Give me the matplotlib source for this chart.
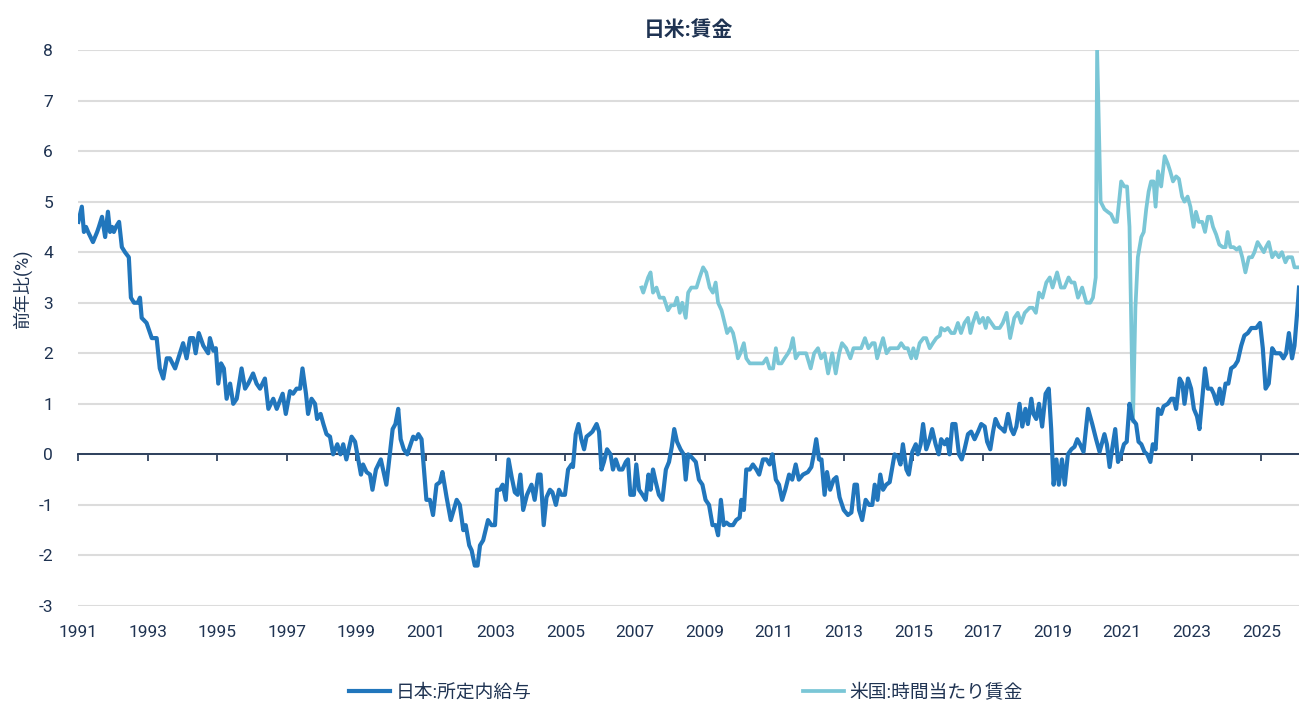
import matplotlib
matplotlib.use("Agg")
import matplotlib.pyplot as plt

plt.rcParams['font.family'] = ['Roboto', 'Noto Sans CJK JP', 'DejaVu Sans']
plt.rcParams['axes.unicode_minus'] = False

# 日本:所定内給与 (前年比, %) 時点は小数年
jp_t = [1991.01, 1991.11, 1991.17, 1991.23, 1991.29, 1991.43, 1991.55, 1991.60, 1991.69, 1991.78,
        1991.86, 1991.92, 1991.98, 1992.03, 1992.09, 1992.18, 1992.26, 1992.35, 1992.46, 1992.52,
        1992.61, 1992.72, 1992.78, 1992.83, 1992.97, 1993.12, 1993.26, 1993.35, 1993.45, 1993.55,
        1993.64, 1993.79, 1994.02, 1994.12, 1994.22, 1994.31, 1994.38, 1994.47, 1994.60, 1994.74,
        1994.79, 1994.89, 1994.96, 1995.03, 1995.11, 1995.19, 1995.27, 1995.37, 1995.46, 1995.56,
        1995.70, 1995.80, 1995.89, 1996.03, 1996.13, 1996.23, 1996.37, 1996.47, 1996.61, 1996.71,
        1996.88, 1996.97, 1997.09, 1997.18, 1997.28, 1997.38, 1997.45, 1997.55, 1997.61, 1997.71,
        1997.81, 1997.87, 1997.97, 1998.05, 1998.14, 1998.24, 1998.33, 1998.45, 1998.54, 1998.62,
        1998.71, 1998.86, 1998.96, 1999.13, 1999.19, 1999.29, 1999.39, 1999.46, 1999.56, 1999.70,
        1999.86, 2000.04, 2000.12, 2000.20, 2000.27, 2000.36, 2000.46, 2000.63, 2000.71, 2000.78,
        2000.87, 2001.01, 2001.11, 2001.20, 2001.30, 2001.40, 2001.47, 2001.59, 2001.71, 2001.88,
        2001.97, 2002.07, 2002.14, 2002.24, 2002.31, 2002.40, 2002.48, 2002.55, 2002.64, 2002.78,
        2002.88, 2002.98, 2003.04, 2003.12, 2003.20, 2003.29, 2003.37, 2003.46, 2003.55, 2003.63,
        2003.71, 2003.79, 2003.90, 2004.03, 2004.12, 2004.22, 2004.29, 2004.38, 2004.46, 2004.56,
        2004.63, 2004.73, 2004.82, 2004.89, 2004.99, 2005.08, 2005.18, 2005.22, 2005.30, 2005.38,
        2005.46, 2005.54, 2005.61, 2005.70, 2005.78, 2005.90, 2005.97, 2006.04, 2006.11, 2006.20,
        2006.30, 2006.37, 2006.45, 2006.55, 2006.64, 2006.74, 2006.80, 2006.87, 2006.97, 2007.04,
        2007.12, 2007.22, 2007.31, 2007.39, 2007.45, 2007.52, 2007.60, 2007.69, 2007.79, 2007.89,
        2007.98, 2008.06, 2008.13, 2008.21, 2008.31, 2008.40, 2008.46, 2008.53, 2008.62, 2008.75,
        2008.84, 2008.94, 2009.03, 2009.13, 2009.23, 2009.32, 2009.39, 2009.47, 2009.55, 2009.63,
        2009.72, 2009.82, 2009.91, 2010.01, 2010.06, 2010.13, 2010.20, 2010.30, 2010.39, 2010.49,
        2010.57, 2010.68, 2010.78, 2010.87, 2010.95, 2011.05, 2011.14, 2011.23, 2011.32, 2011.43,
        2011.52, 2011.62, 2011.71, 2011.83, 2011.97, 2012.07, 2012.14, 2012.21, 2012.29, 2012.36,
        2012.45, 2012.52, 2012.61, 2012.71, 2012.79, 2012.88, 2013.00, 2013.12, 2013.22, 2013.31,
        2013.38, 2013.44, 2013.53, 2013.63, 2013.73, 2013.82, 2013.89, 2013.97, 2014.05, 2014.13,
        2014.22, 2014.32, 2014.46, 2014.56, 2014.63, 2014.70, 2014.80, 2014.87, 2014.97, 2015.07,
        2015.13, 2015.21, 2015.28, 2015.37, 2015.47, 2015.54, 2015.64, 2015.73, 2015.80, 2015.90,
        2015.97, 2016.04, 2016.12, 2016.21, 2016.31, 2016.39, 2016.47, 2016.57, 2016.66, 2016.76,
        2016.86, 2016.95, 2017.05, 2017.12, 2017.21, 2017.29, 2017.36, 2017.46, 2017.55, 2017.62,
        2017.72, 2017.81, 2017.88, 2017.96, 2018.05, 2018.13, 2018.22, 2018.29, 2018.39, 2018.45,
        2018.53, 2018.61, 2018.70, 2018.80, 2018.89, 2018.96, 2019.03, 2019.11, 2019.18, 2019.27,
        2019.35, 2019.44, 2019.54, 2019.63, 2019.71, 2019.79, 2019.89, 2020.02, 2020.14, 2020.25,
        2020.35, 2020.49, 2020.56, 2020.64, 2020.71, 2020.80, 2020.88, 2020.97, 2021.05, 2021.13,
        2021.21, 2021.29, 2021.40, 2021.47, 2021.55, 2021.64, 2021.72, 2021.81, 2021.88, 2021.96,
        2022.03, 2022.12, 2022.19, 2022.31, 2022.41, 2022.48, 2022.55, 2022.65, 2022.73, 2022.79,
        2022.89, 2022.98, 2023.06, 2023.15, 2023.22, 2023.30, 2023.38, 2023.46, 2023.56, 2023.63,
        2023.72, 2023.80, 2023.87, 2023.97, 2024.05, 2024.13, 2024.23, 2024.32, 2024.42, 2024.51,
        2024.61, 2024.71, 2024.85, 2024.96, 2025.04, 2025.12, 2025.21, 2025.31, 2025.40, 2025.54,
        2025.63, 2025.71, 2025.79, 2025.88, 2025.95, 2026.05, 2026.08]
jp_v = [4.6, 4.9, 4.4, 4.5, 4.4, 4.2, 4.4, 4.5, 4.7, 4.3,
        4.8, 4.4, 4.5, 4.4, 4.5, 4.6, 4.1, 4.0, 3.9, 3.1,
        3.0, 3.0, 3.1, 2.7, 2.6, 2.3, 2.3, 1.7, 1.5, 1.9,
        1.9, 1.7, 2.2, 1.9, 2.3, 2.3, 2.0, 2.4, 2.15, 2.0,
        2.3, 2.05, 2.1, 1.4, 1.8, 1.7, 1.1, 1.4, 1.0, 1.1,
        1.7, 1.3, 1.4, 1.6, 1.4, 1.3, 1.5, 0.9, 1.1, 0.9,
        1.2, 0.8, 1.25, 1.2, 1.3, 1.3, 1.7, 1.2, 0.8, 1.1,
        1.0, 0.7, 0.8, 0.6, 0.4, 0.35, 0.0, 0.2, 0.0, 0.2,
        -0.1, 0.35, 0.25, -0.4, -0.2, -0.35, -0.4, -0.7, -0.3, -0.1,
        -0.6, 0.5, 0.6, 0.9, 0.3, 0.1, 0.0, 0.35, 0.3, 0.4,
        0.3, -0.9, -0.9, -1.2, -0.6, -0.55, -0.35, -0.85, -1.3, -0.9,
        -1.0, -1.5, -1.4, -1.8, -1.9, -2.2, -2.2, -1.8, -1.7, -1.3,
        -1.4, -1.4, -0.7, -0.7, -0.6, -0.9, -0.1, -0.45, -0.75, -0.8,
        -0.4, -1.1, -0.8, -0.6, -0.9, -0.4, -0.4, -1.4, -0.85, -0.7,
        -0.75, -1.0, -0.7, -0.8, -0.8, -0.3, -0.2, -0.25, 0.4, 0.6,
        0.3, 0.1, 0.35, 0.4, 0.45, 0.6, 0.45, -0.3, -0.15, 0.1,
        0.0, -0.3, -0.1, -0.3, -0.3, -0.15, -0.1, -0.8, -0.8, -0.2,
        -0.7, -0.8, -0.9, -0.4, -0.7, -0.3, -0.55, -0.8, -0.9, -0.3,
        -0.15, 0.15, 0.5, 0.25, 0.1, 0.0, -0.5, 0.0, -0.05, -0.15,
        -0.5, -0.6, -0.9, -1.0, -1.4, -1.4, -1.6, -0.9, -1.4, -1.35,
        -1.4, -1.4, -1.3, -1.25, -0.9, -1.1, -0.3, -0.3, -0.2, -0.3,
        -0.4, -0.1, -0.1, -0.2, 0.0, -0.5, -0.6, -0.9, -0.7, -0.4,
        -0.5, -0.2, -0.5, -0.4, -0.35, -0.25, 0.0, 0.3, -0.1, -0.1,
        -0.8, -0.35, -0.7, -0.5, -0.45, -0.85, -1.1, -1.2, -1.15, -0.6,
        -0.6, -1.1, -1.3, -0.9, -1.0, -1.0, -0.6, -0.9, -0.4, -0.7,
        -0.6, -0.55, 0.0, -0.05, -0.2, 0.2, -0.3, -0.4, 0.05, 0.2,
        0.0, 0.2, 0.6, 0.1, 0.3, 0.5, 0.2, 0.0, 0.3, 0.2,
        0.3, 0.0, 0.6, 0.6, 0.0, -0.1, 0.1, 0.4, 0.45, 0.3,
        0.45, 0.6, 0.55, 0.25, 0.1, 0.45, 0.7, 0.55, 0.5, 0.45,
        0.8, 0.5, 0.4, 0.55, 1.0, 0.55, 0.9, 0.6, 1.1, 0.8,
        0.7, 1.0, 0.55, 1.2, 1.3, 0.5, -0.6, -0.1, -0.6, -0.1,
        -0.6, 0.0, 0.1, 0.15, 0.3, 0.2, 0.05, 0.9, 0.6, 0.3,
        0.05, 0.4, 0.2, -0.25, 0.1, 0.5, -0.15, 0.0, 0.2, 0.25,
        1.0, 0.7, 0.6, 0.25, 0.2, 0.05, 0.0, -0.15, 0.2, 0.1,
        0.9, 0.8, 0.95, 1.0, 1.1, 1.1, 0.9, 1.5, 1.4, 1.0,
        1.5, 1.3, 0.9, 0.75, 0.5, 1.1, 1.7, 1.3, 1.3, 1.2,
        1.0, 1.3, 1.0, 1.4, 1.4, 1.7, 1.75, 1.85, 2.15, 2.35,
        2.4, 2.5, 2.5, 2.6, 2.1, 1.3, 1.4, 2.1, 2.0, 2.0,
        1.9, 2.0, 2.4, 1.9, 2.15, 3.0, 3.3]

# 米国:時間当たり賃金 (前年比, %)
us_t = [2007.19, 2007.24, 2007.38, 2007.45, 2007.52, 2007.62, 2007.71, 2007.83, 2007.95, 2008.04,
        2008.14, 2008.21, 2008.29, 2008.36, 2008.46, 2008.53, 2008.62, 2008.77, 2008.86, 2008.96,
        2009.05, 2009.15, 2009.24, 2009.32, 2009.39, 2009.49, 2009.58, 2009.65, 2009.74, 2009.82,
        2009.90, 2009.96, 2010.03, 2010.13, 2010.20, 2010.30, 2010.49, 2010.68, 2010.78, 2010.87,
        2010.97, 2011.05, 2011.12, 2011.21, 2011.30, 2011.40, 2011.47, 2011.54, 2011.62, 2011.71,
        2011.81, 2011.92, 2012.05, 2012.15, 2012.26, 2012.35, 2012.45, 2012.55, 2012.67, 2012.77,
        2012.87, 2012.95, 2013.07, 2013.19, 2013.28, 2013.41, 2013.50, 2013.61, 2013.71, 2013.82,
        2013.89, 2013.96, 2014.04, 2014.13, 2014.23, 2014.33, 2014.44, 2014.56, 2014.65, 2014.75,
        2014.84, 2014.94, 2015.00, 2015.08, 2015.18, 2015.29, 2015.37, 2015.47, 2015.56, 2015.66,
        2015.76, 2015.80, 2015.90, 2015.99, 2016.09, 2016.18, 2016.28, 2016.37, 2016.47, 2016.57,
        2016.64, 2016.71, 2016.81, 2016.90, 2017.00, 2017.08, 2017.14, 2017.24, 2017.34, 2017.48,
        2017.57, 2017.68, 2017.78, 2017.90, 2018.00, 2018.10, 2018.20, 2018.34, 2018.43, 2018.52,
        2018.61, 2018.71, 2018.82, 2018.92, 2019.00, 2019.13, 2019.24, 2019.34, 2019.46, 2019.54,
        2019.63, 2019.73, 2019.85, 2019.97, 2020.08, 2020.16, 2020.24, 2020.28, 2020.38, 2020.49,
        2020.58, 2020.68, 2020.78, 2020.85, 2020.97, 2021.06, 2021.14, 2021.21, 2021.31, 2021.38,
        2021.45, 2021.55, 2021.62, 2021.69, 2021.76, 2021.83, 2021.90, 2021.96, 2022.03, 2022.12,
        2022.22, 2022.31, 2022.38, 2022.46, 2022.55, 2022.63, 2022.72, 2022.79, 2022.88, 2022.96,
        2023.05, 2023.12, 2023.20, 2023.30, 2023.38, 2023.46, 2023.54, 2023.61, 2023.70, 2023.79,
        2023.89, 2023.97, 2024.03, 2024.11, 2024.20, 2024.29, 2024.37, 2024.45, 2024.54, 2024.64,
        2024.73, 2024.80, 2024.89, 2024.98, 2025.07, 2025.13, 2025.21, 2025.31, 2025.40, 2025.50,
        2025.59, 2025.69, 2025.76, 2025.88, 2025.95, 2026.05]
us_v = [3.3, 3.2, 3.5, 3.6, 3.2, 3.3, 3.1, 3.1, 2.85, 2.95,
        2.95, 3.1, 2.8, 3.0, 2.7, 3.2, 3.3, 3.3, 3.5, 3.7,
        3.6, 3.3, 3.2, 3.4, 3.0, 2.85, 2.6, 2.4, 2.5, 2.4,
        2.15, 1.9, 2.0, 2.2, 1.9, 1.8, 1.8, 1.8, 1.9, 1.7,
        1.7, 2.1, 1.8, 1.8, 1.9, 2.0, 2.1, 2.3, 1.9, 2.0,
        2.0, 2.0, 1.7, 2.0, 2.1, 1.9, 2.0, 1.6, 2.0, 1.6,
        2.0, 2.2, 2.1, 1.9, 2.1, 2.1, 2.1, 2.3, 2.1, 2.2,
        2.2, 1.9, 2.1, 2.3, 2.0, 2.1, 2.1, 2.1, 2.2, 2.1,
        2.1, 1.9, 2.1, 1.9, 2.2, 2.3, 2.3, 2.1, 2.2, 2.3,
        2.35, 2.5, 2.45, 2.5, 2.4, 2.4, 2.6, 2.4, 2.6, 2.7,
        2.4, 2.6, 2.8, 2.6, 2.7, 2.5, 2.7, 2.6, 2.5, 2.5,
        2.6, 2.8, 2.3, 2.7, 2.8, 2.6, 2.8, 2.9, 2.9, 2.8,
        3.2, 3.1, 3.4, 3.5, 3.3, 3.6, 3.3, 3.3, 3.5, 3.4,
        3.4, 3.1, 3.3, 3.0, 3.0, 3.1, 3.5, 8.0, 5.0, 4.85,
        4.8, 4.75, 4.6, 4.6, 5.4, 5.3, 5.3, 4.5, 0.65, 2.9,
        3.9, 4.3, 4.4, 4.85, 5.2, 5.4, 5.4, 4.9, 5.6, 5.3,
        5.9, 5.75, 5.6, 5.4, 5.5, 5.45, 5.1, 5.0, 5.1, 4.9,
        4.5, 4.8, 4.6, 4.6, 4.4, 4.7, 4.7, 4.5, 4.35, 4.15,
        4.1, 4.1, 4.4, 4.1, 4.1, 4.05, 4.1, 3.9, 3.6, 3.9,
        3.9, 4.0, 4.2, 4.1, 4.0, 4.1, 4.2, 3.9, 4.0, 3.9,
        4.0, 3.8, 3.9, 3.9, 3.7, 3.7]

years = list(range(1991, 2026, 2))
yticks = list(range(-3, 9))

navy = '#1f3352'
c_jp = '#2176bc'
c_us = '#7ac6d6'

fig = plt.figure(figsize=(12.99, 7.05), dpi=100)
ax = fig.add_axes([78 / 1299, 1 - 606 / 705, 1 - 78 / 1299, (606 - 50) / 705])

ax.plot(jp_t, jp_v, color=c_jp, lw=3.0, label='日本:所定内給与', zorder=4, solid_joinstyle='round')
ax.plot(us_t, us_v, color=c_us, lw=2.7, label='米国:時間当たり賃金', zorder=3, solid_joinstyle='round')

ax.set_xlim(1991.0, 2026.08)
ax.set_ylim(-3, 8)

# 横グリッド
ax.set_yticks(yticks)
ax.yaxis.grid(True, color='#dcdcdc', lw=1.5)
ax.set_axisbelow(True)
ax.tick_params(axis='y', length=0, pad=18, labelsize=12.5, labelcolor=navy)

for s in ['top', 'right', 'left']:
    ax.spines[s].set_visible(False)

# ゼロ線に目盛り
ax.spines['bottom'].set_position(('data', 0))
ax.spines['bottom'].set_color(navy)
ax.spines['bottom'].set_linewidth(1.3)
ax.spines['bottom'].set_zorder(2.6)
ax.set_xticks(years)
ax.tick_params(axis='x', direction='out', length=5, width=1.2, color=navy, labelbottom=False)

# 年ラベルは下端に
sec = ax.secondary_xaxis('bottom')
sec.set_xticks(years)
sec.set_xticklabels([str(y) for y in years])
sec.tick_params(length=0, pad=14, labelsize=12.5, labelcolor=navy)
sec.spines['bottom'].set_visible(False)

ax.set_ylabel('前年比(%)', fontsize=13, color=navy)
ax.yaxis.set_label_coords(-0.038, 0.57)

ax.set_title('日米:賃金', fontsize=15, color=navy, fontweight='bold', pad=10)

fig.legend(loc='center', bbox_to_anchor=(0.528, 0.017), ncol=2, frameon=False,
           fontsize=13.5, handlelength=2.2, handletextpad=0.27, columnspacing=14.5,
           labelcolor=navy)

fig.savefig('out.png', dpi=100)
